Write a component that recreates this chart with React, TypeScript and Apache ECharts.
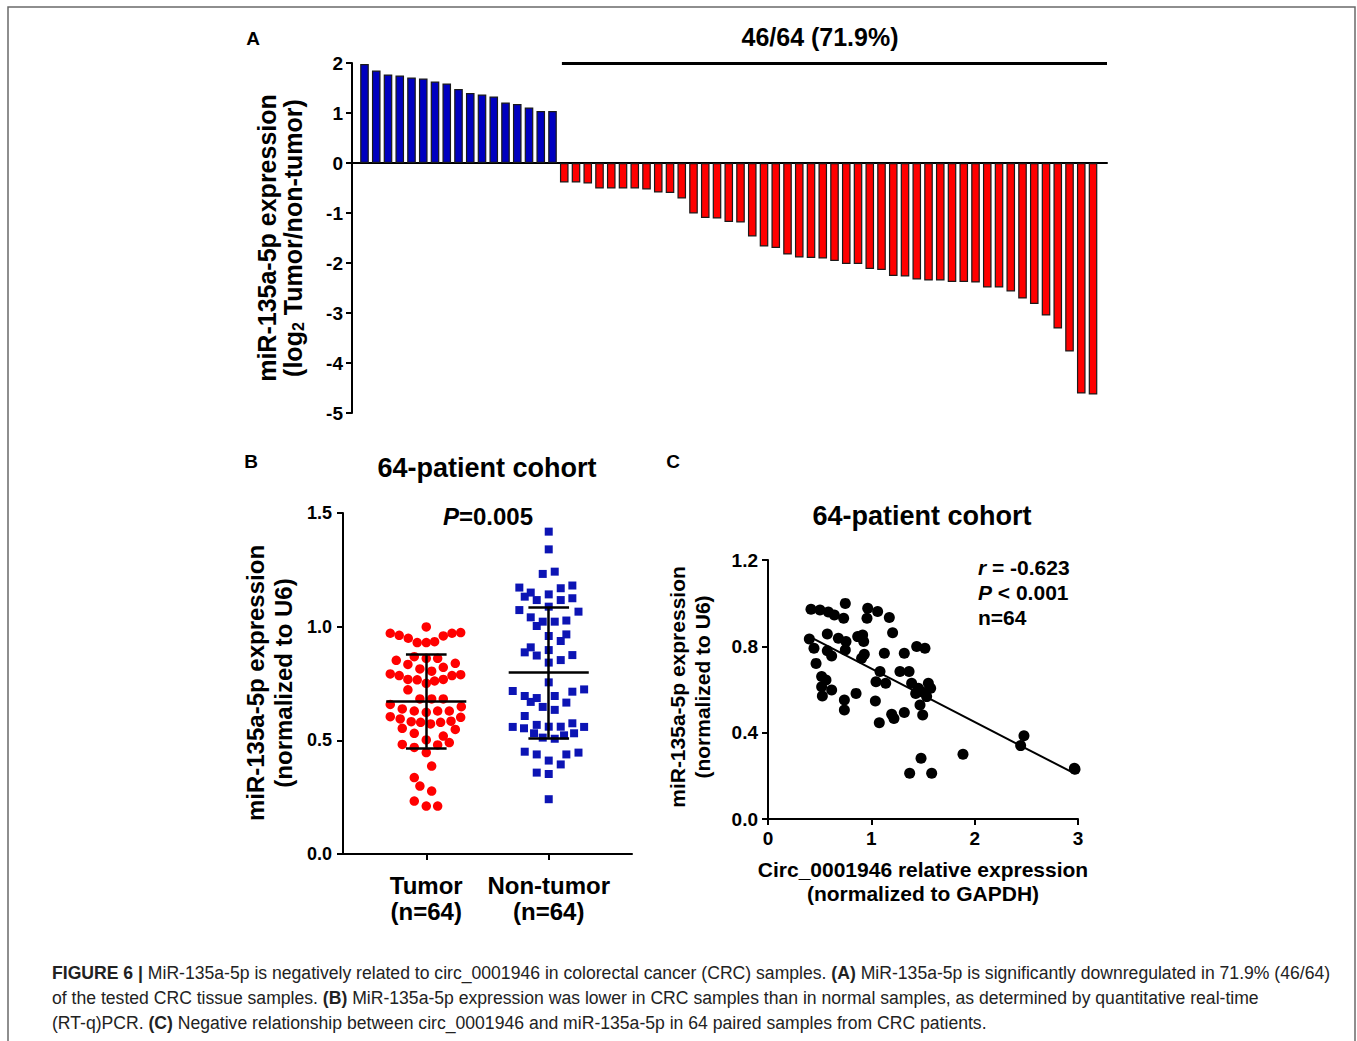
import React, { useEffect, useRef } from "react";
import * as echarts from "echarts";

// ---------- Panel A data ----------
const upValues = [1.98, 1.85, 1.77, 1.75, 1.71, 1.69, 1.63, 1.59, 1.48, 1.40, 1.37, 1.33, 1.21, 1.18, 1.11, 1.04, 1.04];
const downValues = [
  -0.39, -0.39, -0.41, -0.51, -0.51, -0.51, -0.51, -0.53, -0.59, -0.60,
  -0.71, -1.01, -1.10, -1.11, -1.18, -1.19, -1.47, -1.67, -1.70, -1.83,
  -1.89, -1.90, -1.91, -1.96, -2.02, -2.02, -2.12, -2.14, -2.26, -2.27,
  -2.33, -2.35, -2.35, -2.38, -2.38, -2.39, -2.49, -2.49, -2.57, -2.71,
  -2.82, -3.05, -3.31, -3.77, -4.61, -4.63,
];
const aTicks = [-5, -4, -3, -2, -1, 0, 1, 2];
const downLabel = "46/64 (71.9%)";

// ---------- Panel B data ----------
const groupLabels = ["Tumor\n(n=64)", "Non-tumor\n(n=64)"];
const tumorValues = [
  0.999, 0.971, 0.962, 0.949, 0.930, 0.930, 0.934, 0.959, 0.971, 0.974,
  0.868, 0.861, 0.861, 0.852, 0.834, 0.814, 0.804, 0.821, 0.839, 0.792,
  0.785, 0.768, 0.766, 0.751, 0.761, 0.768, 0.785, 0.789, 0.722, 0.682,
  0.682, 0.682, 0.658, 0.638, 0.629, 0.623, 0.629, 0.629, 0.648, 0.604,
  0.594, 0.582, 0.579, 0.572, 0.579, 0.584, 0.601, 0.553, 0.531, 0.548,
  0.519, 0.502, 0.490, 0.482, 0.469, 0.480, 0.446, 0.387, 0.336, 0.299,
  0.277, 0.233, 0.211, 0.211,
];
const tumorJitter = [
  0, -0.294, -0.221, -0.147, -0.074, 0, 0.068, 0.139, 0.210, 0.281,
  -0.098, 0, 0.093, -0.245, -0.150, -0.052, 0.044, 0.139, 0.237, -0.294,
  -0.221, -0.150, -0.074, 0, 0.068, 0.139, 0.210, 0.281, -0.150, -0.052,
  0.044, 0.139, -0.294, -0.196, -0.098, 0, 0.093, 0.188, 0.286, -0.294,
  -0.213, -0.123, -0.046, 0.035, 0.117, 0.202, 0.281, -0.196, -0.098, 0.237,
  0.139, 0, 0.188, -0.196, -0.098, 0.093, 0, 0.044, -0.098, -0.052,
  0.044, -0.098, 0, 0.093,
];
const nonTumorValues = [
  1.418, 1.340, 1.232, 1.242, 1.172, 1.150, 1.132, 1.117, 1.142, 1.169,
  1.181, 1.117, 1.125, 1.073, 1.088, 1.066, 1.041, 1.003, 1.022, 1.022,
  1.027, 0.959, 0.966, 0.937, 0.909, 0.887, 0.873, 0.897, 0.853, 0.875,
  0.842, 0.755, 0.717, 0.695, 0.669, 0.686, 0.647, 0.634, 0.695, 0.666,
  0.714, 0.724, 0.607, 0.559, 0.553, 0.568, 0.560, 0.560, 0.575, 0.559,
  0.531, 0.512, 0.507, 0.522, 0.531, 0.450, 0.438, 0.411, 0.394, 0.438,
  0.446, 0.358, 0.352, 0.241,
];
const nonTumorJitter = [
  0, 0, -0.049, 0.049, -0.240, -0.147, -0.196, -0.098, 0, 0.098,
  0.193, 0.098, 0.193, -0.240, 0, 0.243, -0.147, -0.098, -0.049, 0.049,
  0.144, 0, 0.144, 0.098, -0.147, -0.196, -0.098, 0, 0.098, 0.193,
  0, 0, -0.294, -0.196, -0.147, -0.098, -0.049, 0.049, 0.049, 0.144,
  0.193, 0.289, -0.196, -0.294, -0.202, -0.098, 0, 0.098, 0.193, 0.289,
  -0.120, -0.049, 0.049, 0.125, 0.207, -0.196, -0.098, 0, 0.098, 0.144,
  0.243, -0.098, 0, 0,
];
const groupMeans = [0.673, 0.798];
const groupSDs = [0.206, 0.287];

// ---------- Panel C data ----------
const circX = [
  0.416, 0.503, 0.584, 0.642, 0.732, 0.748, 0.965, 1.061, 0.958, 1.174,
  1.206, 0.400, 0.445, 0.574, 0.681, 0.755, 0.748, 0.574, 0.616, 0.868,
  0.916, 0.926, 0.932, 0.906, 1.126, 0.465, 0.519, 0.561, 0.519, 0.616,
  0.526, 0.739, 0.739, 0.852, 1.084, 1.045, 1.139, 1.039, 1.077, 1.197,
  1.219, 1.319, 1.277, 1.365, 1.319, 1.439, 1.519, 1.390, 1.455, 1.429,
  1.552, 1.574, 1.487, 1.471, 1.497, 1.481, 1.371, 1.584, 1.887, 2.445,
  2.477, 2.965, 2.971, 1.535,
];
const mirY = [
  0.972, 0.968, 0.959, 0.945, 0.930, 0.999, 0.976, 0.961, 0.930, 0.934,
  0.863, 0.834, 0.791, 0.857, 0.837, 0.822, 0.783, 0.780, 0.755, 0.845,
  0.853, 0.822, 0.763, 0.745, 0.768, 0.721, 0.660, 0.644, 0.613, 0.598,
  0.570, 0.551, 0.505, 0.582, 0.683, 0.636, 0.629, 0.547, 0.446, 0.485,
  0.466, 0.493, 0.683, 0.683, 0.768, 0.799, 0.791, 0.629, 0.606, 0.582,
  0.629, 0.606, 0.590, 0.528, 0.482, 0.281, 0.212, 0.212, 0.300, 0.340,
  0.386, 0.235, 0.230, 0.567,
];
const fitX = [0.42, 2.97];
const fitY = [0.84, 0.21];
const statLines = ["r = -0.623", "P < 0.001", "n=64"];

const cohortTitle = "64-patient cohort";
const captionLines = [
  "{b|FIGURE 6 |} MiR-135a-5p is negatively related to circ_0001946 in colorectal cancer (CRC) samples. {b|(A)} MiR-135a-5p is significantly downregulated in 71.9% (46/64)",
  "of the tested CRC tissue samples. {b|(B)} MiR-135a-5p expression was lower in CRC samples than in normal samples, as determined by quantitative real-time",
  "(RT-q)PCR. {b|(C)} Negative relationship between circ_0001946 and miR-135a-5p in 64 paired samples from CRC patients.",
];

const FONT = "'Liberation Sans', Arial, Helvetica, sans-serif";
const BLUE = "#0000c0";
const SQUARE = "#0c14b4";
const RED = "#ff0000";
const CAP_SIZE = 17.6;

function axisStyle(fontSize: number, margin: number) {
  return {
    axisLine: { show: true, onZero: false, lineStyle: { color: "#000", width: 2 } },
    axisTick: { show: true, inside: false, length: 6, lineStyle: { color: "#000", width: 2 } },
    axisLabel: { color: "#000", fontWeight: "bold" as const, fontSize, fontFamily: FONT, margin },
    splitLine: { show: false },
  };
}

function errorBars(center: number, mean: number, sd: number) {
  const wide = 0.327;
  const cap = 0.166;
  return [
    [{ coord: [center - wide, mean] }, { coord: [center + wide, mean] }],
    [{ coord: [center - cap, mean + sd] }, { coord: [center + cap, mean + sd] }],
    [{ coord: [center - cap, mean - sd] }, { coord: [center + cap, mean - sd] }],
    [{ coord: [center, mean - sd] }, { coord: [center, mean + sd] }],
  ];
}

export default function App() {
  const ref = useRef<HTMLDivElement>(null);
  useEffect(() => {
    if (!ref.current) return;
    const chart = echarts.init(ref.current, undefined, { renderer: "svg" });

    const barValues = [...upValues, ...downValues];
    const barData = barValues.map((v, i) => ({
      value: [i, v],
      itemStyle: { color: i < upValues.length ? BLUE : RED },
    }));

    const tumorData = tumorValues.map((v, i) => [1 + tumorJitter[i], v]);
    const nonTumorData = nonTumorValues.map((v, i) => [2 + nonTumorJitter[i], v]);
    const cData = circX.map((x, i) => [x, mirY[i]]);
    const fitData = fitX.map((x, i) => [x, fitY[i]]);

    const markLineBase = {
      silent: true,
      symbol: ["none", "none"],
      label: { show: false },
      lineStyle: { color: "#000", width: 2.5, type: "solid" as const },
      emphasis: { disabled: true },
    };

    const text = (x: number, y: number, t: string, size: number, extra: any = {}) => ({
      type: "text",
      x,
      y,
      ...extra,
      style: {
        text: t,
        fill: "#000",
        font: `bold ${size}px ${FONT}`,
        align: "center",
        verticalAlign: "middle",
        ...(extra.style || {}),
      },
    });

    const yName = (x: number, y: number, lines: string, size: number, lh: number, rich: any = {}) => ({
      type: "text",
      x,
      y,
      rotation: Math.PI / 2,
      style: {
        text: lines,
        fill: "#000",
        fontFamily: FONT,
        fontWeight: "bold",
        fontSize: size,
        lineHeight: lh,
        align: "center",
        verticalAlign: "middle",
        rich,
      },
    });

    const option: any = {
      animation: false,
      backgroundColor: "#fff",
      grid: [
        { left: 352, top: 63, width: 755, height: 350 },
        { left: 343, top: 513, width: 289, height: 341 },
        { left: 768, top: 560, width: 310, height: 259 },
      ],
      xAxis: [
        {
          gridIndex: 0,
          type: "value",
          min: -1.064,
          max: 63.19,
          axisLine: { show: true, onZero: true, lineStyle: { color: "#000", width: 2 } },
          axisTick: { show: false },
          axisLabel: { show: false },
          splitLine: { show: false },
        },
        {
          gridIndex: 1,
          type: "value",
          min: 0.32,
          max: 2.68,
          ...axisStyle(24, 18),
          axisTick: { show: true, length: 6, customValues: [1, 2], lineStyle: { color: "#000", width: 2 } },
          axisLabel: {
            color: "#000",
            fontWeight: "bold",
            fontSize: 24,
            lineHeight: 26,
            fontFamily: FONT,
            margin: 18,
            customValues: [1, 2],
            formatter: (v: number) => groupLabels[Math.round(v) - 1] || "",
          },
        },
        {
          gridIndex: 2,
          type: "value",
          min: 0,
          max: 3,
          interval: 1,
          ...axisStyle(19, 10),
        },
      ],
      yAxis: [
        {
          gridIndex: 0,
          type: "value",
          min: aTicks[0],
          max: aTicks[aTicks.length - 1],
          interval: 1,
          ...axisStyle(19, 9),
        },
        {
          gridIndex: 1,
          type: "value",
          min: 0,
          max: 1.5,
          interval: 0.5,
          ...axisStyle(18, 11),
          axisLabel: { color: "#000", fontWeight: "bold", fontSize: 18, fontFamily: FONT, margin: 11, formatter: (v: number) => v.toFixed(1) },
        },
        {
          gridIndex: 2,
          type: "value",
          min: 0,
          max: 1.2,
          interval: 0.4,
          ...axisStyle(19, 10),
          axisLabel: { color: "#000", fontWeight: "bold", fontSize: 19, fontFamily: FONT, margin: 10, formatter: (v: number) => v.toFixed(1) },
        },
      ],
      series: [
        {
          type: "bar",
          xAxisIndex: 0,
          yAxisIndex: 0,
          barWidth: 8.6,
          data: barData,
          itemStyle: { borderColor: "#1a1a1a", borderWidth: 1.2 },
          markLine: {
            ...markLineBase,
            lineStyle: { color: "#000", width: 3, type: "solid" },
            data: [[{ coord: [16.8, 2] }, { coord: [63.19, 2] }]],
          },
        },
        {
          type: "scatter",
          xAxisIndex: 1,
          yAxisIndex: 1,
          symbol: "circle",
          symbolSize: 9.5,
          itemStyle: { color: RED, opacity: 1 },
          data: tumorData,
          z: 2,
          markLine: { ...markLineBase, data: errorBars(1, groupMeans[0], groupSDs[0]) },
        },
        {
          type: "scatter",
          xAxisIndex: 1,
          yAxisIndex: 1,
          symbol: "rect",
          symbolSize: 8,
          itemStyle: { color: SQUARE, opacity: 1 },
          data: nonTumorData,
          z: 2,
          markLine: { ...markLineBase, data: errorBars(2, groupMeans[1], groupSDs[1]) },
        },
        {
          type: "scatter",
          xAxisIndex: 2,
          yAxisIndex: 2,
          symbol: "circle",
          symbolSize: 11,
          itemStyle: { color: "#000", opacity: 1 },
          data: cData,
        },
        {
          type: "line",
          xAxisIndex: 2,
          yAxisIndex: 2,
          symbol: "none",
          lineStyle: { color: "#000", width: 2 },
          data: fitData,
          z: 3,
        },
      ],
      graphic: [
        {
          type: "rect",
          shape: { x: 8, y: 7, width: 1347, height: 1045 },
          style: { fill: "none", stroke: "#6a6a6a", lineWidth: 1.5 },
        },
        text(253, 38, "A", 19),
        text(251, 461, "B", 19),
        text(673, 461, "C", 19),
        text(820, 37, downLabel, 25),
        text(487, 468, cohortTitle, 27),
        text(922, 516, cohortTitle, 27),
        {
          type: "text",
          x: 488,
          y: 516,
          style: {
            text: "{i|P}{n|=0.005}",
            align: "center",
            verticalAlign: "middle",
            rich: {
              i: { fontFamily: FONT, fontWeight: "bold", fontStyle: "italic", fontSize: 24, fill: "#000" },
              n: { fontFamily: FONT, fontWeight: "bold", fontSize: 24, fill: "#000" },
            },
          },
        },
        ...statLines.map((s, k) => {
          const m = s.match(/^([rP])(.*)$/);
          const t = m ? `{i|${m[1]}}{n|${m[2]}}` : `{n|${s}}`;
          return {
            type: "text",
            x: 978,
            y: 567 + k * 25,
            style: {
              text: t,
              align: "left",
              verticalAlign: "middle",
              rich: {
                i: { fontFamily: FONT, fontWeight: "bold", fontStyle: "italic", fontSize: 21, fill: "#000" },
                n: { fontFamily: FONT, fontWeight: "bold", fontSize: 21, fill: "#000" },
              },
            },
          };
        }),
        yName(280, 238, "{a|miR-135a-5p expression}\n{a|(log}{s|2}{a| Tumor/non-tumor)}", 25, 26, {
          a: { fontFamily: FONT, fontWeight: "bold", fontSize: 25, lineHeight: 26, fill: "#000", verticalAlign: "middle" },
          s: { fontFamily: FONT, fontWeight: "bold", fontSize: 16, lineHeight: 16, fill: "#000", verticalAlign: "bottom" },
        }),
        yName(269, 683, "miR-135a-5p expression\n(normalized to U6)", 24, 28),
        yName(690, 687, "miR-135a-5p expression\n(normalized to U6)", 21, 25),
        text(923, 881, "Circ_0001946 relative expression\n(normalized to GAPDH)", 21, { style: { lineHeight: 24 } }),
        ...captionLines.map((line, k) => ({
          type: "text",
          x: 52,
          y: 973 + k * 25,
          style: {
            text: line,
            align: "left",
            verticalAlign: "middle",
            fontFamily: FONT,
            fontSize: CAP_SIZE,
            fill: "#222",
            rich: {
              b: { fontFamily: FONT, fontSize: CAP_SIZE, fontWeight: "bold", fill: "#222" },
            },
          },
        })),
      ],
    };

    chart.setOption(option);
    return () => chart.dispose();
  }, []);

  return (
    <div
      ref={ref}
      style={{ position: "fixed", left: 0, top: 0, width: 1357, height: 1041, background: "#fff" }}
    />
  );
}
